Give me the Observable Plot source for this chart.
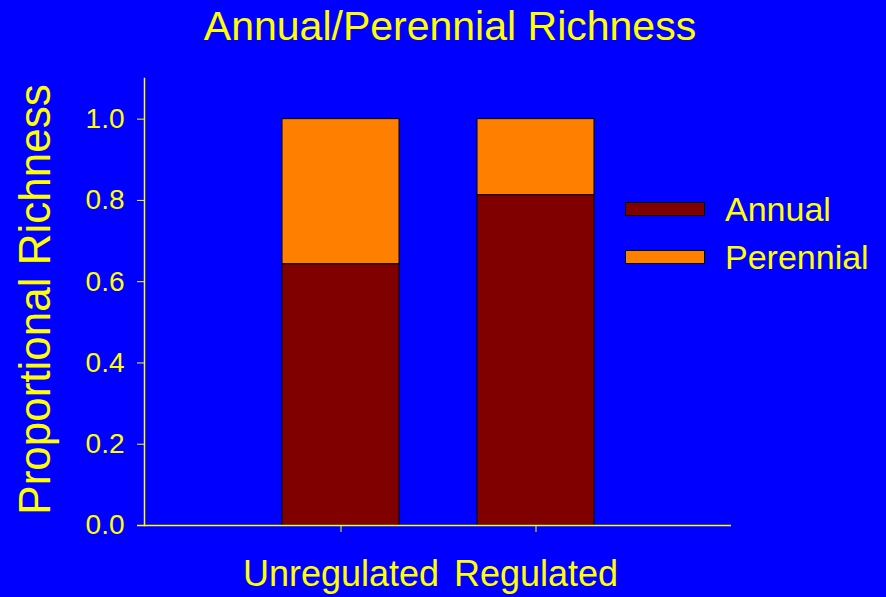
<!DOCTYPE html>
<html>
<head>
<meta charset="utf-8">
<script src="https://cdn.jsdelivr.net/npm/d3@7"></script>
<script src="https://cdn.jsdelivr.net/npm/@observablehq/plot@0.6"></script>
<style>
  html, body { margin: 0; padding: 0; background: #0000ff; }
  #wrap { position: relative; width: 886px; height: 597px; background: #0000ff; overflow: hidden;
          font-family: "Liberation Sans", Arial, Helvetica, sans-serif; }
  #legend { position: absolute; left: 625px; top: 185px; color: #ffff00; font-size: 34px; }
  .item { display: flex; align-items: center; height: 48px; }
  .sw { width: 78px; height: 12px; border: 1px solid #000; margin-right: 20px; }
</style>
</head>
<body>
<div id="wrap"></div>
<script>
const title = "Annual/Perennial Richness";
const yLabel = "Proportional Richness";
const sites = ["Unregulated", "Regulated"];
const types = ["Annual", "Perennial"];
const colors = ["#800000", "#ff8000"];
const annual = [0.643, 0.813];
const perennial = [0.357, 0.187];
const yTicks = [0, 0.2, 0.4, 0.6, 0.8, 1.0];

const data = [];
sites.forEach((s, i) => {
  data.push({site: s, type: types[0], value: annual[i]});
  data.push({site: s, type: types[1], value: perennial[i]});
});

const yellow = "#ffff00";
const chart = Plot.plot({
  width: 886,
  height: 597,
  marginTop: 78,
  marginBottom: 72,
  marginLeft: 144,
  marginRight: 155,
  style: {background: "#0000ff", color: yellow, fontFamily: "'Liberation Sans', Arial, sans-serif"},
  x: {domain: sites, paddingInner: 0.4, paddingOuter: 0.7, label: null},
  y: {domain: [0, 1.1], label: null},
  color: {domain: types, range: colors},
  marks: [
    Plot.barY(data, {x: "site", y: "value", fill: "type", stroke: "#000", strokeWidth: 1}),
    Plot.ruleY([0], {stroke: yellow, strokeWidth: 1.5, insetLeft: -7}),
    Plot.frame({anchor: "left", stroke: yellow, strokeWidth: 1.5}),
    Plot.axisY({ticks: yTicks, tickFormat: d3.format(".1f"), tickSize: 7, tickPadding: 13,
                fontSize: 28, stroke: yellow, fill: yellow, label: null}),
    Plot.axisX({tickSize: 7, tickPadding: 28, fontSize: 36, stroke: yellow, fill: yellow, label: null}),
    Plot.text([yLabel], {frameAnchor: "left", rotate: -90, dx: -109, dy: -2.5, fontSize: 44,
                         fill: yellow, lineAnchor: "middle", textAnchor: "middle"}),
    Plot.text([title], {frameAnchor: "top", dx: 12, dy: -52, fontSize: 41, fill: yellow,
                        lineAnchor: "middle", textAnchor: "middle"})
  ]
});
const wrap = document.getElementById("wrap");
wrap.appendChild(chart);

const legend = document.createElement("div");
legend.id = "legend";
types.forEach((t, i) => {
  const item = document.createElement("div");
  item.className = "item";
  const sw = document.createElement("div");
  sw.className = "sw";
  sw.style.background = colors[i];
  const lab = document.createElement("span");
  lab.textContent = t;
  item.appendChild(sw);
  item.appendChild(lab);
  legend.appendChild(item);
});
wrap.appendChild(legend);
</script>
</body>
</html>
